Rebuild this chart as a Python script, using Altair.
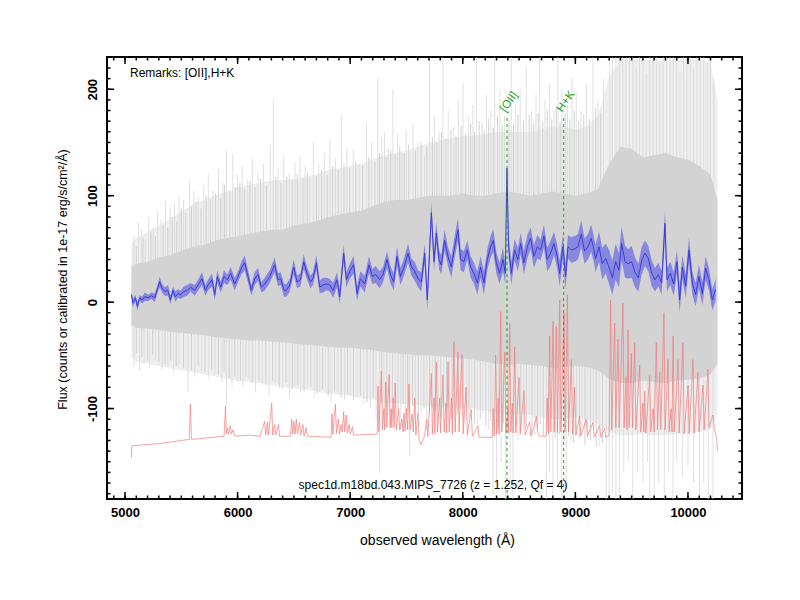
import altair as alt
import pandas as pd

# ---------------- data ----------------
# smoothed object spectrum (blue) and its 1-sigma half-width
blue_wave = [5057, 5071, 5092, 5110, 5131, 5151, 5175, 5205, 5234, 5264,
             5293, 5308, 5329, 5353, 5382, 5403, 5427, 5447, 5471, 5495,
             5524, 5554, 5583, 5619, 5649, 5684, 5714, 5737, 5773, 5797,
             5820, 5850, 5879, 5909, 5939, 5974, 6004, 6033, 6063, 6093,
             6122, 6152, 6181, 6211, 6241, 6285, 6329, 6359, 6383, 6412,
             6433, 6463, 6498, 6528, 6558, 6587, 6617, 6646, 6670, 6700,
             6729, 6759, 6788, 6818, 6848, 6883, 6907, 6942, 6966, 6996,
             7031, 7061, 7090, 7129, 7167, 7197, 7226, 7262, 7292, 7327,
             7357, 7386, 7416, 7446, 7475, 7514, 7543, 7573, 7602, 7632,
             7662, 7685, 7721, 7745, 7765, 7789,
             7809, 7839, 7868, 7898, 7928, 7957, 7981, 8010, 8040, 8070,
             8099, 8129, 8158, 8188, 8218, 8247, 8271, 8298, 8327, 8357,
             8378, 8392, 8407, 8431, 8460, 8490, 8514, 8543, 8573, 8602,
             8632, 8662, 8691, 8721, 8750, 8780, 8810, 8839, 8860, 8890,
             8913, 8934, 8964, 8993, 9023, 9052, 9082, 9112, 9141, 9165,
             9180, 9210, 9239, 9269, 9299, 9328, 9358, 9387, 9411, 9441,
             9470, 9500, 9530, 9559, 9589, 9618, 9648, 9678, 9707, 9737,
             9766, 9796, 9814, 9843, 9873, 9903, 9926, 9950, 9980, 10009,
             10039, 10068, 10098, 10128, 10157, 10187, 10216, 10246]
blue_flux = [7, -1, 4, -4, 4, 2, 5, 4, 6, 4,
             14, 19, 13, 10, 11, 2, 11, 5, 8, 7,
             10, 11, 14, 11, 16, 22, 11, 16, 21, 7,
             24, 14, 24, 21, 27, 17, 24, 32, 37, 24,
             11, 22, 26, 14, 17, 24, 35, 21, 22, 11,
             11, 16, 33, 19, 21, 38, 27, 19, 22, 37,
             14, 16, 17, 16, 11, 21, 5, 46, 21, 29,
             35, 8, 22, 17, 35, 24, 26, 21, 26, 40,
             26, 19, 43, 24, 32, 46, 33, 29, 22, 19,
             46, 2, 84, 38, 65, 40,
             35, 58, 43, 33, 52, 68, 40, 38, 49, 33,
             27, 18, 33, 18, 40, 52, 58, 37, 27, 40,
             27, 126, 52, 27, 49, 40, 55, 37, 52, 60,
             43, 52, 49, 62, 40, 46, 55, 43, 27, 52,
             24, 52, 49, 50, 52, 64, 48, 52, 60, 49,
             41, 52, 36, 41, 33, 23, 38, 30, 55, 38,
             36, 38, 28, 23, 39, 46, 41, 27, 21, 26,
             18, 74, 21, 27, 17, 38, 2, 33, 15, 49,
             18, 7, 24, 8, 32, 21, 2, 12]
blue_err = [3, 4, 3, 4, 3, 3, 4, 3, 3, 4,
            4, 5, 4, 4, 5, 4, 4, 5, 4, 4,
            5, 5, 4, 5, 5, 6, 5, 5, 6, 5,
            6, 5, 6, 5, 6, 6, 5, 6, 7, 6,
            5, 6, 6, 5, 6, 6, 7, 6, 6, 6,
            6, 6, 7, 6, 6, 7, 6, 6, 6, 7,
            6, 7, 6, 6, 7, 7, 7, 8, 7, 7,
            8, 7, 7, 8, 8, 7, 8, 8, 7, 8,
            8, 8, 9, 8, 8, 9, 8, 9, 8, 9,
            9, 10, 10, 9, 10, 9,
            9, 10, 9, 10, 10, 11, 10, 10, 9, 10,
            10, 11, 10, 11, 10, 10, 11, 10, 10, 11,
            10, 6, 10, 11, 10, 11, 10, 11, 11, 10,
            11, 11, 10, 11, 11, 12, 11, 11, 12, 11,
            12, 11, 12, 12, 12, 13, 12, 12, 13, 12,
            13, 14, 15, 14, 16, 16, 17, 16, 16, 15,
            14, 15, 14, 13, 13, 12, 12, 12, 11, 11,
            11, 12, 11, 11, 11, 11, 12, 11, 11, 12,
            11, 11, 11, 11, 11, 10, 10, 10]

# sky spectrum (red), shifted below the object spectrum
red_wave = [5057, 5060, 5300, 5570, 5581, 5590, 5880, 5892, 5900, 5910,
            5920, 5935, 5945, 5960, 5975, 6100, 6200, 6240, 6250, 6265,
            6275, 6303, 6312, 6330, 6340, 6363, 6372, 6470, 6480, 6490,
            6500, 6510, 6522, 6532, 6550, 6560, 6580, 6590, 6610, 6620,
            6830, 6838, 6846, 6869, 6878, 6895, 6905, 6920, 6930, 6942,
            6952, 6965, 6975, 6990, 7000, 7020, 7030, 7240, 7247, 7255,
            7277, 7287, 7300, 7306, 7316, 7325, 7346, 7356, 7365, 7370,
            7381, 7390, 7400, 7410, 7430, 7440, 7460, 7470, 7478, 7488,
            7500, 7510, 7522, 7532, 7550, 7560, 7573, 7583, 7603, 7612,
            7630, 7650, 7660, 7680, 7690, 7721, 7730, 7745, 7752, 7765,
            7775, 7795, 7802, 7824, 7834, 7850, 7857, 7869, 7879, 7900,
            7907, 7922, 7932, 7957, 7967, 7993, 8003, 8030, 8040, 8075,
            8085, 8134, 8144, 8260, 8270, 8280, 8292, 8302, 8315, 8322,
            8337, 8347, 8373, 8383, 8400, 8405, 8417, 8427, 8440, 8447,
            8461, 8471, 8500, 8510, 8544, 8554, 8594, 8604, 8640, 8653,
            8665, 8680, 8740, 8750, 8760, 8772, 8782, 8802, 8812, 8831,
            8841, 8861, 8871, 8900, 8910, 8929, 8939, 8965, 8975, 8994,
            9004, 9038, 9048, 9097, 9107, 9157, 9167, 9216, 9226, 9260,
            9270, 9300, 9313, 9323, 9349, 9359, 9379, 9389, 9423, 9433,
            9450, 9458, 9468, 9478, 9497, 9507, 9527, 9537, 9571, 9581,
            9600, 9608, 9616, 9626, 9660, 9670, 9690, 9700, 9719, 9729,
            9749, 9759, 9787, 9797, 9823, 9833, 9850, 9858, 9868, 9878,
            9912, 9922, 9956, 9966, 10001, 10011, 10045, 10055, 10089, 10099,
            10134, 10144, 10178, 10188, 10210, 10222, 10235, 10255, 10262]
red_flux = [-146, -135, -133, -129, -96, -129, -126, -98, -124, -118,
            -124, -116, -124, -120, -126, -125, -126, -112, -125, -113,
            -125, -95, -125, -115, -125, -115, -126, -126, -110, -124,
            -112, -124, -110, -124, -113, -125, -115, -126, -118, -126,
            -127, -105, -124, -96, -123, -110, -124, -115, -122, -103,
            -122, -106, -123, -115, -124, -117, -125, -124, -79, -122,
            -65, -120, -100, -120, -75, -118, -68, -118, -100, -118,
            -90, -118, -76, -120, -100, -120, -110, -122, -104, -121,
            -100, -120, -77, -120, -105, -122, -90, -125, -104, -130,
            -134, -128, -126, -110, -126, -67, -124, -90, -124, -56,
            -122, -90, -123, -69, -122, -95, -123, -56, -122, -90,
            -124, -37, -122, -47, -122, -49, -124, -80, -125, -101,
            -126, -116, -127, -127, -100, -126, -50, -124, -90, -124,
            -9, -122, -47, -123, -100, -123, -20, -122, -95, -123,
            -42, -123, -71, -124, -83, -125, -112, -126, -115, -107,
            -122, -126, -126, -90, -124, -32, -122, -18, -122, -23,
            -123, 2, -122, -10, -122, 7, -122, -54, -124, -80,
            -125, -107, -126, -110, -126, -113, -127, -116, -127, -119,
            -127, -125, 2, -120, -20, -118, -35, -118, -1, -118,
            -70, -120, -26, -118, -48, -118, -38, -120, -59, -122,
            -95, -122, -84, -123, -69, -122, -100, -122, -38, -120,
            -66, -120, -10, -120, -54, -122, -100, -122, -32, -122,
            -54, -123, -38, -124, -78, -124, -54, -123, -66, -122,
            -78, -120, -63, -118, -110, -106, -120, -128, -140]

# raw spectrum (grey): dense core band and lighter outer band
gray_wave = [5057, 5100, 5200, 5300, 5400, 5500, 5600, 5700, 5800, 5900,
             6000, 6100, 6200, 6300, 6400, 6500, 6600, 6700, 6800, 6900,
             7000, 7100, 7200, 7300, 7400, 7500, 7600, 7700, 7800, 7900,
             8000, 8100, 8200, 8300, 8400, 8500, 8600, 8700, 8800, 8900,
             9000, 9100, 9200, 9300, 9400, 9500, 9600, 9700, 9800, 9900,
             10000, 10100, 10200, 10262]
gray_core_hi = [34, 36, 38, 42, 44, 48, 52, 54, 58, 60,
                62, 64, 66, 68, 68, 72, 74, 76, 80, 82,
                84, 86, 90, 94, 96, 96, 98, 100, 100, 100,
                102, 100, 100, 102, 104, 102, 100, 102, 104, 102,
                100, 102, 106, 130, 146, 144, 136, 138, 140, 136,
                134, 128, 120, 96]
gray_core_lo = [-22, -24, -25, -26, -28, -29, -30, -31, -33, -34,
                -35, -36, -36, -37, -38, -39, -40, -41, -42, -43,
                -43, -44, -45, -47, -48, -49, -50, -50, -51, -52,
                -53, -54, -56, -58, -59, -58, -59, -60, -62, -61,
                -60, -61, -64, -72, -76, -76, -74, -75, -76, -74,
                -73, -72, -68, -58]
gray_light_hi = [55, 60, 66, 72, 78, 85, 92, 96, 100, 104,
                 108, 110, 112, 114, 115, 116, 118, 120, 124, 126,
                 128, 130, 134, 138, 140, 142, 146, 150, 152, 154,
                 156, 156, 158, 160, 160, 160, 160, 162, 165, 165,
                 162, 165, 175, 212, 228, 228, 228, 228, 228, 228,
                 228, 228, 225, 190]
gray_light_lo = [-52, -56, -58, -60, -62, -64, -66, -68, -70, -72,
                 -74, -75, -76, -78, -80, -81, -82, -84, -86, -87,
                 -88, -90, -92, -94, -95, -96, -97, -98, -98, -99,
                 -100, -100, -102, -104, -105, -105, -106, -108, -110, -110,
                 -108, -110, -114, -122, -125, -125, -124, -125, -125, -124,
                 -123, -122, -120, -105]

# long noise spikes of the raw spectrum
spike_up_wave = [5080, 5120, 5146, 5180, 5210, 5250, 5290, 5320, 5360, 5400,
                 5440, 5480, 5520, 5575, 5610, 5650, 5700, 5740, 5780, 5830,
                 5870, 5900, 5957, 6000, 6040, 6090, 6130, 6180, 6230, 6290,
                 6317, 6360, 6410, 6460, 6510, 6555, 6600, 6640, 6673, 6720,
                 6770, 6820, 6870, 6922, 6970, 7026, 7080, 7145, 7190, 7245,
                 7280, 7305, 7340, 7379, 7420, 7460, 7497, 7557, 7600, 7660,
                 7706, 7750, 7790, 7824, 7870, 7920, 7960, 8002, 8050, 8090,
                 8120, 8170, 8210, 8250, 8283, 8330, 8370, 8431, 8470, 8510,
                 8564, 8610, 8650, 8683, 8730, 8770, 8810, 8845, 8880, 8930,
                 8970, 9008, 9050, 9100, 9156, 9200, 9250, 9305, 9330, 9360,
                 9390, 9420, 9450, 9480, 9510, 9540, 9570, 9600, 9630, 9660,
                 9690, 9720, 9750, 9780, 9810, 9840, 9870, 9900, 9930, 9960,
                 9990, 10020, 10050, 10080, 10110, 10140, 10170, 10200, 10230]
spike_up_top = [62, 75, 68, 58, 80, 70, 85, 78, 95, 88,
                92, 100, 96, 115, 105, 98, 110, 120, 105, 125,
                112, 143, 140, 120, 128, 115, 135, 122, 130, 148,
                190, 125, 138, 120, 132, 137, 128, 118, 150, 130,
                140, 153, 135, 176, 145, 143, 130, 168, 150, 211,
                155, 160, 145, 200, 158, 140, 163, 168, 150, 137,
                230, 175, 160, 230, 180, 165, 190, 206, 175, 185,
                230, 170, 195, 180, 230, 200, 175, 230, 185, 200,
                221, 180, 195, 230, 190, 205, 180, 230, 200, 185,
                210, 197, 180, 205, 230, 190, 210, 230, 230, 230,
                230, 230, 230, 230, 230, 220, 230, 230, 215, 230,
                230, 230, 225, 230, 230, 230, 230, 230, 215, 230,
                230, 230, 220, 230, 230, 230, 225, 230, 210]
spike_dn_wave = [5080, 5130, 5170, 5220, 5270, 5330, 5380, 5430, 5480, 5559,
                 5620, 5680, 5740, 5800, 5860, 5900, 5950, 6000, 6048, 6100,
                 6160, 6220, 6280, 6340, 6400, 6460, 6507, 6560, 6620, 6680,
                 6729, 6780, 6830, 6890, 6950, 7000, 7060, 7120, 7180, 7230,
                 7261, 7300, 7350, 7400, 7450, 7490, 7528, 7580, 7630, 7680,
                 7730, 7780, 7830, 7880, 7930, 7980, 8030, 8080, 8130, 8180,
                 8230, 8268, 8300, 8340, 8380, 8420, 8446, 8490, 8540, 8590,
                 8640, 8690, 8742, 8770, 8800, 8840, 8880, 8920, 8960, 9010,
                 9060, 9110, 9160, 9210, 9275, 9300, 9330, 9360, 9393, 9430,
                 9470, 9510, 9550, 9600, 9640, 9660, 9700, 9740, 9790, 9830,
                 9867, 9900, 9950, 10000, 10050, 10103, 10140, 10180, 10222]
spike_dn_bot = [-60, -65, -58, -62, -55, -63, -60, -66, -58, -84,
                -70, -65, -72, -68, -75, -98, -80, -75, -79, -72,
                -85, -78, -88, -75, -82, -90, -79, -85, -78, -90,
                -84, -80, -95, -85, -92, -88, -90, -95, -100, -110,
                -161, -105, -115, -100, -120, -110, -145, -115, -105, -120,
                -100, -110, -95, -115, -105, -100, -110, -100, -115, -105,
                -120, -180, -170, -150, -185, -175, -185, -130, -120, -110,
                -125, -115, -185, -160, -185, -170, -185, -175, -130, -125,
                -120, -130, -120, -135, -185, -185, -180, -185, -185, -160,
                -150, -185, -160, -170, -150, -185, -185, -170, -185, -160,
                -185, -150, -165, -155, -170, -185, -170, -185, -185]

# shorter, denser noise spikes (the darker hatching around the core)
mid_up_wave = [5100, 5160, 5230, 5270, 5340, 5380, 5420, 5460, 5500, 5540,
               5590, 5630, 5675, 5720, 5760, 5805, 5850, 5885, 5930, 5980,
               6020, 6060, 6110, 6155, 6205, 6255, 6340, 6385, 6435, 6485,
               6530, 6580, 6620, 6700, 6745, 6795, 6845, 6895, 6945, 6995,
               7050, 7110, 7165, 7220, 7260, 7320, 7360, 7400, 7440, 7480,
               7520, 7580, 7630, 7680, 7730, 7770, 7810, 7850, 7895, 7940,
               7985, 8025, 8070, 8105, 8145, 8190, 8230, 8270, 8310, 8350,
               8410, 8450, 8490, 8540, 8590, 8630, 8670, 8710, 8750, 8790,
               8830, 8865, 8910, 8950, 8990, 9030, 9075, 9125, 9180, 9225]
mid_up_top = [52, 60, 66, 62, 72, 70, 80, 76, 88, 84,
              90, 95, 88, 100, 96, 102, 98, 110, 104, 108,
              112, 106, 114, 108, 116, 110, 118, 112, 118, 114,
              120, 116, 122, 118, 124, 120, 128, 124, 130, 126,
              132, 128, 136, 132, 140, 136, 142, 138, 146, 140,
              148, 142, 150, 146, 155, 150, 160, 154, 162, 156,
              165, 158, 168, 160, 170, 162, 172, 164, 175, 166,
              172, 168, 176, 170, 176, 168, 178, 170, 180, 172,
              182, 170, 178, 172, 180, 170, 176, 172, 182, 178]
mid_dn_wave = [5100, 5150, 5200, 5245, 5300, 5355, 5405, 5455, 5520, 5590,
               5650, 5710, 5770, 5830, 5880, 5925, 5975, 6025, 6075, 6130,
               6190, 6250, 6310, 6370, 6430, 6485, 6535, 6590, 6650, 6705,
               6755, 6805, 6860, 6920, 6975, 7030, 7090, 7150, 7205, 7280,
               7325, 7375, 7425, 7470, 7510, 7555, 7605, 7655, 7705, 7755,
               7805, 7855, 7905, 7955, 8005, 8055, 8105, 8155, 8205, 8250,
               8320, 8360, 8400, 8470, 8515, 8565, 8615, 8665, 8715, 8760,
               8820, 8860, 8900, 8940, 8985, 9035, 9085, 9135, 9185, 9240]
mid_dn_bot = [-48, -52, -55, -50, -56, -58, -55, -60, -62, -64,
              -60, -66, -64, -68, -66, -72, -70, -74, -70, -76,
              -74, -78, -74, -80, -76, -82, -78, -84, -80, -86,
              -82, -88, -84, -90, -86, -92, -88, -94, -90, -96,
              -98, -95, -100, -96, -102, -98, -104, -100, -106, -102,
              -108, -104, -110, -106, -112, -108, -114, -110, -116, -112,
              -118, -114, -120, -116, -122, -118, -124, -120, -126, -122,
              -128, -124, -130, -126, -132, -128, -134, -130, -136, -132]

# identified features
line_wave = [8393, 8896]
line_name = ["[OII]", "H+K"]
line_top = [173, 173]
line_label_y = [185, 185]

remarks_text = "Remarks: [OII],H+K"
spec_text = "spec1d.m18bd.043.MIPS_7726 (z = 1.252, Qf = 4)"
x_title = "observed wavelength (Å)"
y_title = "Flux (counts or calibrated in 1e-17 erg/s/cm²/Å)"

x_major = [5000, 6000, 7000, 8000, 9000, 10000]
x_minor = list(range(4900, 10500, 100))
y_major = [-100, 0, 100, 200]
y_minor = list(range(-180, 231, 10))

X_DOMAIN = [4840, 10480]
Y_DOMAIN = [-185, 230.3]
W, H = 635, 442
FONT = "Liberation Sans"
MAJ, MIN = 7, 3.5

# ---------------- tables ----------------
df_blue = pd.DataFrame({"w": blue_wave, "f": blue_flux, "e": blue_err})
df_blue["lo"] = df_blue["f"] - df_blue["e"]
df_blue["hi"] = df_blue["f"] + df_blue["e"]
df_red = pd.DataFrame({"w": red_wave, "f": red_flux})
df_gray = pd.DataFrame({"w": gray_wave, "clo": gray_core_lo, "chi": gray_core_hi,
                        "llo": gray_light_lo, "lhi": gray_light_hi})
df_up = pd.DataFrame({"w": spike_up_wave, "t": spike_up_top})
df_dn = pd.DataFrame({"w": spike_dn_wave, "t": spike_dn_bot})
df_mup = pd.DataFrame({"w": mid_up_wave, "t": mid_up_top})
df_mdn = pd.DataFrame({"w": mid_dn_wave, "t": mid_dn_bot})
df_lines = pd.DataFrame({"w": line_wave, "name": line_name, "top": line_top,
                         "ly": line_label_y})


def X(field, axis=None):
    return alt.X(f"{field}:Q", scale=alt.Scale(domain=X_DOMAIN, nice=False, zero=False),
                 axis=axis)


def Y(field, axis=None):
    return alt.Y(f"{field}:Q", scale=alt.Scale(domain=Y_DOMAIN, nice=False, zero=False),
                 axis=axis)


ax_x_lab = alt.Axis(orient="bottom", values=x_major, format="d", ticks=False,
                    domain=False, grid=False, labelPadding=7, labelFlush=False,
                    labelOverlap=False, title=x_title, titleX=330, titleY=41,
                    titleBaseline="middle", titleAlign="center", titleFontSize=14)
ax_y_lab = alt.Axis(orient="left", values=y_major, labelExpr="'' + datum.value",
                    labelAngle=270, labelAlign="center", labelBaseline="bottom",
                    labelPadding=8, labelFlush=False, labelOverlap=False,
                    ticks=False, domain=False, grid=False, title=y_title,
                    titleX=-45, titleY=222, titleAngle=270, titleAlign="center",
                    titleBaseline="middle", titleFontSize=12.5)

light = alt.Chart(df_gray).mark_area(color="#eeeeee", clip=True).encode(
    x=X("w", ax_x_lab), y=Y("llo", ax_y_lab), y2="lhi")
up = alt.Chart(df_up).mark_rule(color="#d8d8d8", strokeWidth=0.8, clip=True).encode(
    x=X("w"), y=Y("t"), y2=alt.datum(0))
dn = alt.Chart(df_dn).mark_rule(color="#d8d8d8", strokeWidth=0.8, clip=True).encode(
    x=X("w"), y=Y("t"), y2=alt.datum(0))
mup = alt.Chart(df_mup).mark_rule(color="#cfcfcf", strokeWidth=1, clip=True).encode(
    x=X("w"), y=Y("t"), y2=alt.datum(0))
mdn = alt.Chart(df_mdn).mark_rule(color="#cfcfcf", strokeWidth=1, clip=True).encode(
    x=X("w"), y=Y("t"), y2=alt.datum(0))
core = alt.Chart(df_gray).mark_area(color="#d3d3d3", clip=True).encode(
    x=X("w"), y=Y("clo"), y2="chi")
red = alt.Chart(df_red).mark_line(color="#f47a7a", strokeWidth=0.7, clip=True).encode(
    x=X("w"), y=Y("f"))
band = alt.Chart(df_blue).mark_area(color="#7474e2", opacity=0.8, clip=True).encode(
    x=X("w"), y=Y("lo"), y2="hi")
blue = alt.Chart(df_blue).mark_line(color="#3c3cdc", strokeWidth=1, clip=True).encode(
    x=X("w"), y=Y("f"))
glines = alt.Chart(df_lines).mark_rule(color="#22a022", strokeWidth=1,
                                       strokeDash=[3, 3]).encode(
    x=X("w"), y=Y("top"), y2=alt.datum(-185))
glabels = alt.Chart(df_lines).mark_text(color="#22a022", font=FONT, fontSize=11.5,
                                        angle=305, align="left", baseline="middle",
                                        dx=-7).encode(
    x=X("w"), y=Y("ly"), text="name:N")
remarks = alt.Chart(pd.DataFrame({"t": [remarks_text]})).mark_text(
    font=FONT, fontSize=12, align="left", baseline="middle", color="black").encode(
    x=alt.value(23), y=alt.value(16), text="t:N")
spec = alt.Chart(pd.DataFrame({"t": [spec_text]})).mark_text(
    font=FONT, fontSize=12, align="center", baseline="middle", color="black").encode(
    x=alt.value(326), y=alt.value(428), text="t:N")

# inward ticks on all four sides of the frame, positioned through the scales
df_xmaj = pd.DataFrame({"v": x_major})
df_xmin = pd.DataFrame({"v": x_minor})
df_ymaj = pd.DataFrame({"v": y_major})
df_ymin = pd.DataFrame({"v": y_minor})


def xticks(df, size):
    bottom = alt.Chart(df).mark_rule(color="black", strokeWidth=1.5).encode(
        x=X("v"), y=alt.value(H - size), y2=alt.value(H))
    top = alt.Chart(df).mark_rule(color="black", strokeWidth=1.5).encode(
        x=X("v"), y=alt.value(0), y2=alt.value(size))
    return [bottom, top]


def yticks(df, size):
    left = alt.Chart(df).mark_rule(color="black", strokeWidth=1.5).encode(
        y=Y("v"), x=alt.value(0), x2=alt.value(size))
    right = alt.Chart(df).mark_rule(color="black", strokeWidth=1.5).encode(
        y=Y("v"), x=alt.value(W - size), x2=alt.value(W))
    return [left, right]


tick_layers = (xticks(df_xmaj, MAJ) + xticks(df_xmin, MIN)
               + yticks(df_ymaj, MAJ) + yticks(df_ymin, MIN))

chart = alt.layer(light, up, dn, mup, mdn, core, red, band, blue, glines, glabels,
                  remarks, spec, *tick_layers
                  ).resolve_axis(x="independent", y="independent").properties(
    width=W, height=H,
    padding={"left": 99, "top": 49, "right": 50, "bottom": 93},
    autosize=alt.AutoSizeParams(type="none"),
).configure_view(stroke="black", strokeWidth=2).configure_axis(
    labelFont=FONT, labelFontSize=13, labelFontWeight="bold", labelColor="black",
    titleFont=FONT, titleFontSize=12, titleFontWeight="normal", titleColor="black")

chart.save("out.html", embed_options={"renderer": "svg", "actions": False})
